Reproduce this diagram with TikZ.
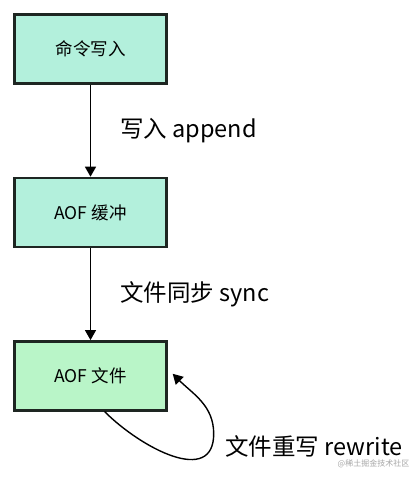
\documentclass[tikz,border=0pt]{standalone}
\usepackage{fontspec}
\setmainfont{Noto Sans CJK SC}
\usepackage{tikz}
\usetikzlibrary{arrows.meta,positioning}

\definecolor{mintfill}{HTML}{B3F0DC}
\definecolor{greenfill}{HTML}{B9F5C8}
\definecolor{boxline}{HTML}{1E2622}

\begin{document}
\begin{tikzpicture}
          [-{Triangle[width=11pt,length=10pt]},node distance=92pt,line width=1.4pt]
          \tikzstyle{stepbox}=[draw=boxline,line width=2.4pt,minimum width=152pt,minimum height=69pt,inner sep=0pt,font=\fontsize{17.5}{20}\selectfont]
          \tikzstyle{lbl}=[font=\fontsize{23.5}{27}\selectfont,anchor=west,inner sep=0pt]
          \useasboundingbox (0,0) rectangle (413pt,-481pt);

          \node[stepbox,fill=mintfill] (cmd) at (90.5pt,-49pt) {命令写入};
          \node[stepbox,fill=mintfill] (buf) [below = of cmd] {AOF 缓冲};
          \node[stepbox,fill=greenfill] (file) [below = of buf] {AOF 文件};

          \path
          (cmd) edge[] node[lbl,xshift=29pt] {写入 append} (buf)
          (buf) edge[] node[lbl,xshift=29pt] {文件同步 sync} (file)
          ;
          % rewrite loop
          \coordinate (loopend) at ([xshift=5pt,yshift=2pt]file.east);
          \coordinate (loopmid) at ([xshift=46pt,yshift=-58pt]file.east);
          \draw ([xshift=14pt]file.south) to[out=-45,in=-90,looseness=1.2] (loopmid)
            to[out=90,in=-45] (loopend);
          \node[lbl] (rewrite) at ([xshift=57pt,yshift=-35pt]file.south east) {文件重写 rewrite};
          \node[anchor=north east,inner sep=0pt,text=black!35,font=\fontsize{8}{10}\selectfont] (mark) at (410pt,-459pt) {@稀土掘金技术社区};
        \end{tikzpicture}
\end{document}
